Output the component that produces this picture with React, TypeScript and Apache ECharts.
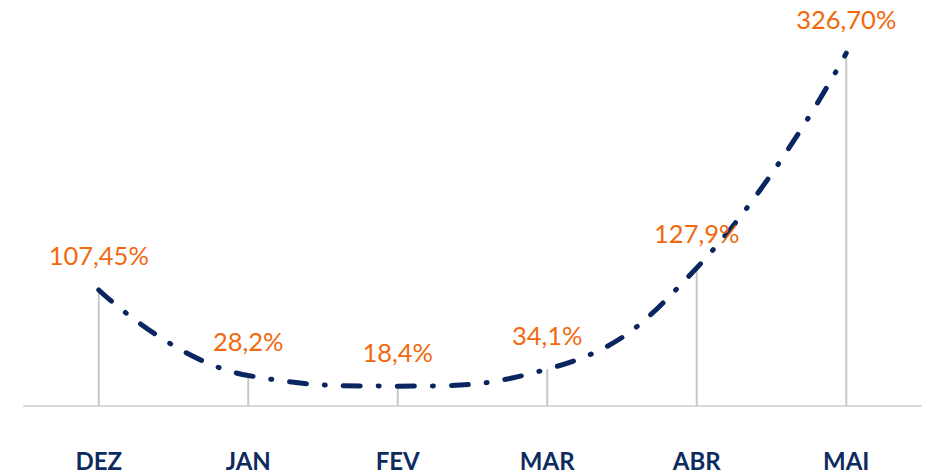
import React, { useEffect, useRef } from "react";
import * as echarts from "echarts";

const categories = ["DEZ", "JAN", "FEV", "MAR", "ABR", "MAI"];
const values = [107.45, 28.2, 18.4, 34.1, 127.9, 326.7];
const labels = ["107,45%", "28,2%", "18,4%", "34,1%", "127,9%", "326,70%"];

export default function App() {
  const ref = useRef<HTMLDivElement>(null);
  useEffect(() => {
    if (!ref.current) return;
    const chart = echarts.init(ref.current, undefined, { renderer: "svg" });
    chart.setOption({
      animation: false,
      grid: { left: 24, right: 11, top: 28, bottom: 67 },
      xAxis: {
        type: "category",
        data: categories,
        boundaryGap: true,
        axisLine: { show: true, lineStyle: { color: "#d9d9d9", width: 2 } },
        axisTick: { show: false },
        axisLabel: {
          color: "#0d2b5e",
          fontFamily: "Lato",
          fontWeight: "bold",
          fontSize: 24,
          margin: 42,
        },
      },
      yAxis: {
        type: "value",
        min: 0,
        max: 350,
        show: false,
        splitLine: { show: false },
      },
      series: [
        {
          type: "bar",
          data: values,
          barWidth: 2,
          silent: true,
          itemStyle: { color: "#c8c8c8" },
          z: 1,
        },
        {
          type: "line",
          data: values,
          smooth: 0.45,
          symbol: "circle",
          symbolSize: 1,
          showSymbol: true,
          itemStyle: { color: "rgba(0,0,0,0)" },
          z: 3,
          lineStyle: {
            color: "#0a2660",
            width: 5,
            type: [17, 18, 1, 18],
            cap: "round",
          },
          label: {
            show: true,
            position: "top",
            distance: 21,
            color: "#f0690f",
            fontFamily: "Lato",
            fontSize: 25.5,
            formatter: (p: any) => labels[p.dataIndex],
          },
        },
      ],
    });
    return () => chart.dispose();
  }, []);
  return (
    <div
      ref={ref}
      style={{ position: "fixed", left: 0, top: 0, width: 932, height: 473, background: "#fff" }}
    />
  );
}
